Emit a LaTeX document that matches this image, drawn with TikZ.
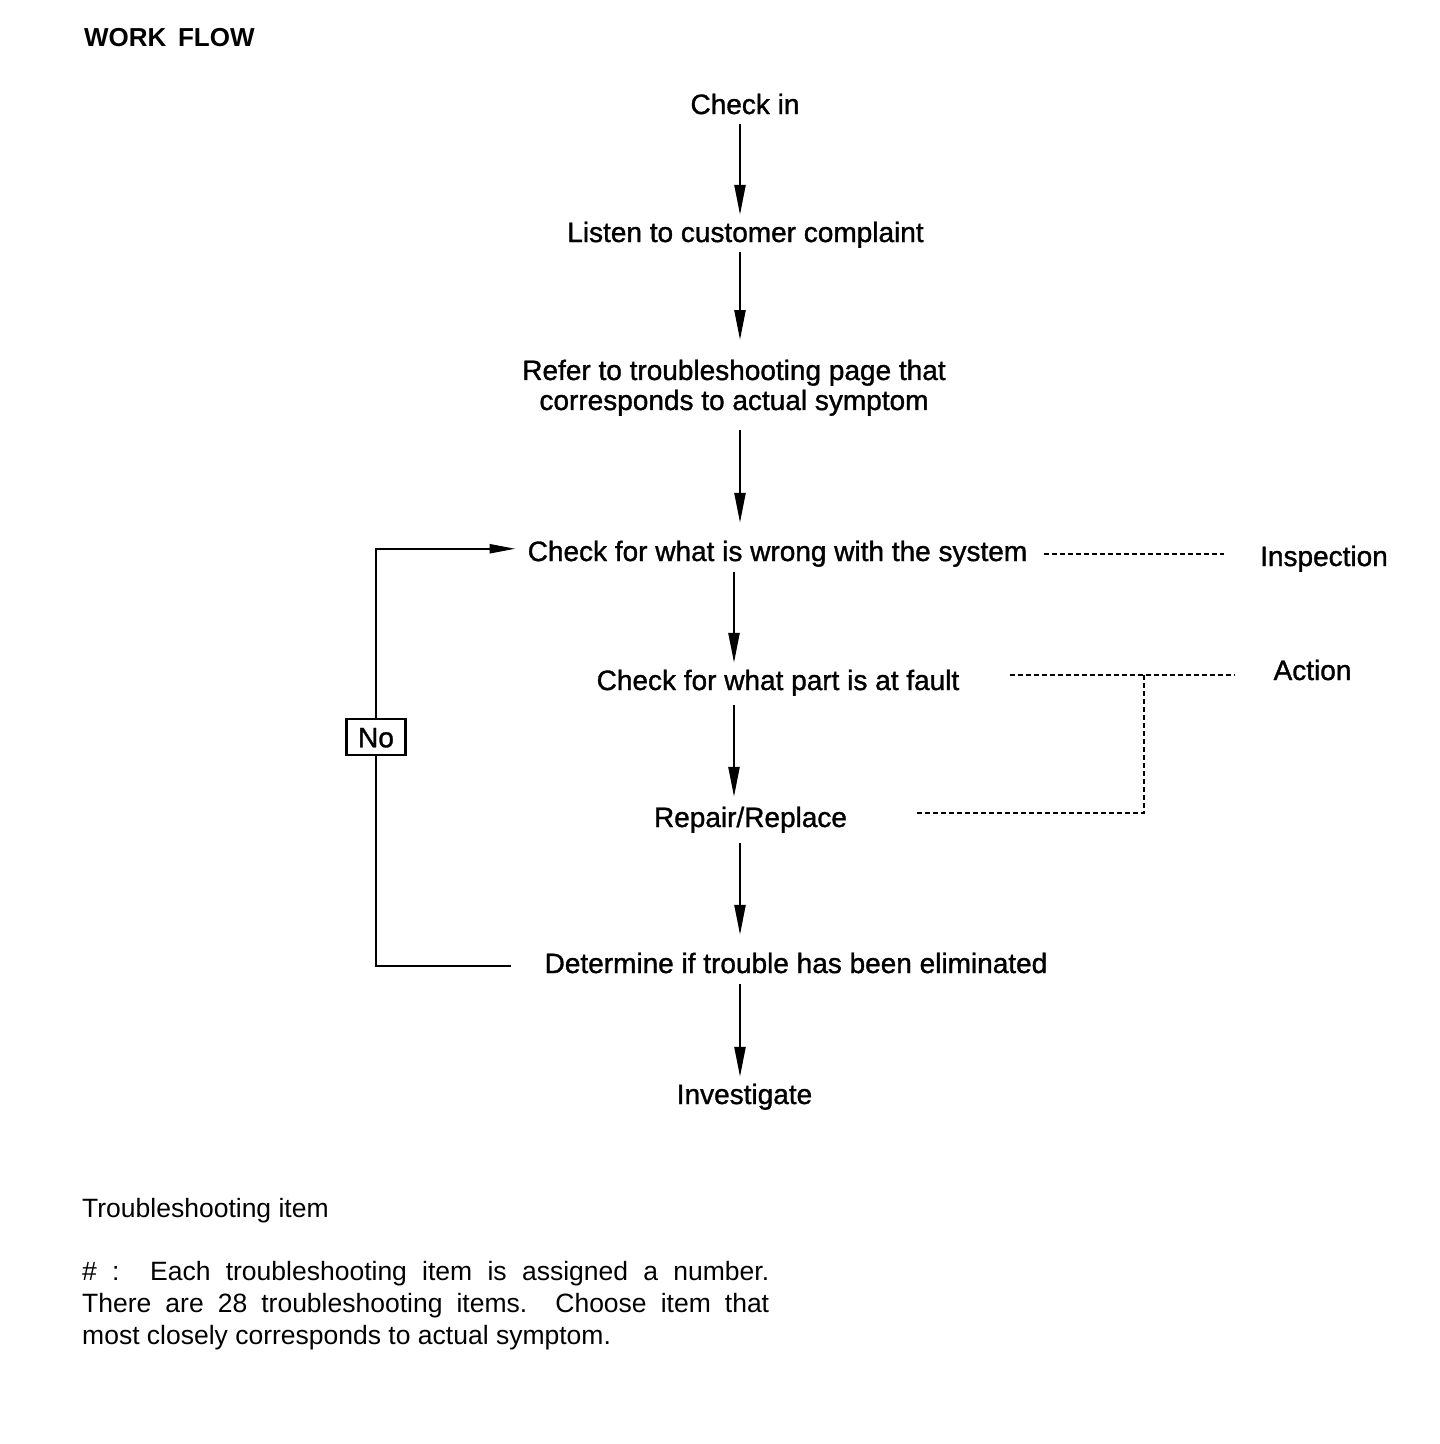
\documentclass[tikz,border=0pt]{standalone}
\usepackage{fontspec}
\setmainfont{Liberation Sans}
\newfontfamily\lblfont[FakeBold=1.2]{Liberation Sans}
\usetikzlibrary{arrows.meta}
\begin{document}
\begin{tikzpicture}[x=1pt,y=-1pt,
  lbl/.style={font=\lblfont\fontsize{28}{30}\selectfont, text height=20.5pt, text depth=6pt, inner sep=4pt, anchor=base},
  arr/.style={line width=2.4pt, -{Triangle[length=30pt,width=11pt]}},
  flow/.style={line width=2.4pt},
  dsh/.style={line width=2pt, dash pattern=on 5pt off 3pt},
  nobox/.style={draw, line width=2.2pt, font=\lblfont\fontsize{28}{30}\selectfont, text height=20.5pt, text depth=0pt, inner sep=0pt, minimum width=59pt, minimum height=36pt}
]
\useasboundingbox (0,0) rectangle (1440,1444);

\node[anchor=base west, inner sep=0pt, font=\fontsize{26}{30}\selectfont\bfseries] (title) at (84,46) {WORK\ \,FLOW};

\node[lbl] (checkin) at (745,114) {Check in};
\node[lbl] (listen) at (745.5,242) {Listen to customer complaint};
\node[font=\lblfont\fontsize{28}{30}\selectfont, align=center, inner sep=4pt, anchor=north] (refer) at (734,355.5) {Refer to troubleshooting page that\\ corresponds to actual symptom};
\node[lbl] (wrong) at (777.5,561) {Check for what is wrong with the system};
\node[lbl] (part) at (778,690) {Check for what part is at fault};
\node[lbl] (repair) at (750.5,827) {Repair/Replace};
\node[lbl] (det) at (796,973) {Determine if trouble has been eliminated};
\node[lbl] (inv) at (744.5,1104) {Investigate};
\node[lbl] (insp) at (1324,566) {Inspection};
\node[lbl] (action) at (1312.5,680) {Action};
\node[nobox] (no) at (376,737) {No};

\coordinate (ax) at (740,0);
\coordinate (bx) at (734,0);
\coordinate (ja) at (1144,675);
\coordinate (win) at ([yshift=5pt]wrong.west);

\draw[arr, shorten >=2.5pt] (checkin.south -| ax) -- (listen.north -| ax);
\draw[arr, shorten >=15.5pt] (listen.south -| ax) -- (refer.north -| ax);
\draw[arr, shorten <=10pt, shorten >=13.5pt] (refer.south -| ax) -- (wrong.north -| ax);
\draw[arr, shorten <=1pt, shorten >=2.5pt] (wrong.south -| bx) -- (part.north -| bx);
\draw[arr, shorten <=5pt, shorten >=5.5pt] (part.south -| bx) -- (repair.north -| bx);
\draw[arr, shorten <=6pt, shorten >=13.5pt] (repair.south -| ax) -- (det.north -| ax);
\draw[arr, shorten <=1pt, shorten >=2.5pt] (det.south -| ax) -- (inv.north -| ax);

% No loop
\draw[flow, shorten <=29pt] (det.west) -- (det.west -| no) -- (no.south);
\draw[line width=2.4pt, -{Triangle[length=26pt,width=9pt]}, shorten >=8pt] (no.north) -- (no.north |- win) -- (win);

% dashed leaders
\draw[dsh, shorten <=13pt, shorten >=32pt] (wrong.east) -- (wrong.east -| insp.west);
\draw[dsh, shorten <=46pt, shorten >=35pt] ([yshift=7.75pt]part.east) -- ([yshift=7.75pt]part.east -| action.west);
\draw[dsh, shorten <=66pt] ([yshift=6.75pt]repair.east) -- ([yshift=6.75pt]repair.east -| ja) -- (ja);

% footer
\node[anchor=base west, inner sep=0pt, font=\fontsize{26.5}{32}\selectfont] (tsi) at (82,1217) {Troubleshooting item};
\node[anchor=north west, inner sep=0pt, text width=687pt, align=justify, font=\fontsize{26.5}{32}\selectfont] (para) at (82,1261) {\#\ :\ \ Each troubleshooting item is assigned a number.\linebreak There are 28 troubleshooting items.\ \ Choose item that\linebreak most closely corresponds to actual symptom.};
\end{tikzpicture}
\end{document}
